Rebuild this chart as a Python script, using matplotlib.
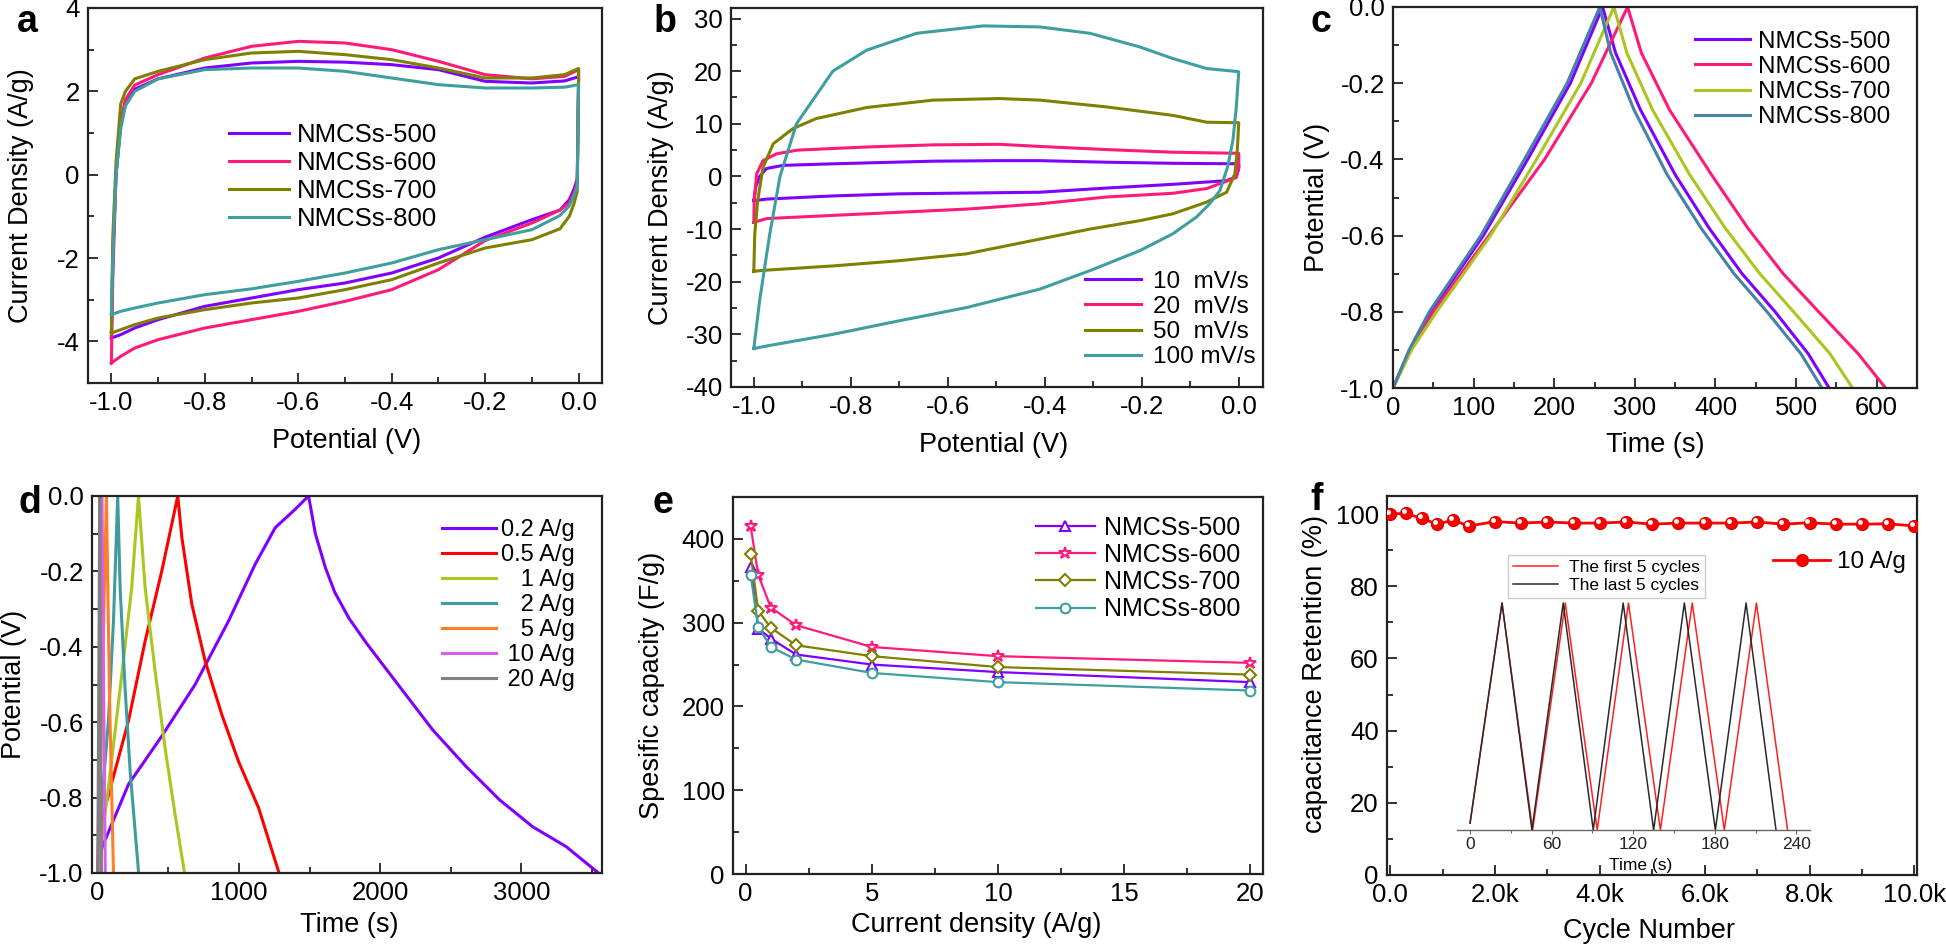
import matplotlib
matplotlib.use("Agg")
import matplotlib.pyplot as plt
from matplotlib.ticker import MultipleLocator, FormatStrFormatter, FuncFormatter
from matplotlib.transforms import offset_copy

plt.rcParams['font.family'] = ['Liberation Sans', 'DejaVu Sans']
plt.rcParams['axes.unicode_minus'] = False

PURPLE = '#7F00FF'
PINK = '#FF1A7A'
OLIVE = '#808000'
TEAL = '#3F9E9E'
YGREEN = '#ADC51F'
STEEL = '#4681A8'

# ---- panel a: CV of the four samples (forward sweep then reverse sweep)
va_up = [-1.0, -0.997, -0.99, -0.98, -0.97, -0.95, -0.9, -0.8, -0.7, -0.6, -0.5, -0.4, -0.3, -0.2, -0.1, -0.03, 0.0]
va_dn = [0.0, -0.003, -0.01, -0.02, -0.04, -0.1, -0.2, -0.3, -0.4, -0.5, -0.6, -0.7, -0.8, -0.9, -0.95, -0.98, -1.0]
a500_up = [-3.92, -2.0, 0.0, 1.2, 1.7, 2.05, 2.3, 2.56, 2.68, 2.72, 2.7, 2.64, 2.52, 2.24, 2.2, 2.25, 2.35]
a600_up = [-4.52, -2.5, 0.0, 1.3, 1.8, 2.15, 2.4, 2.8, 3.08, 3.2, 3.16, 3.0, 2.72, 2.4, 2.3, 2.36, 2.52]
a700_up = [-3.8, -1.5, 0.3, 1.7, 2.0, 2.3, 2.48, 2.76, 2.92, 2.96, 2.88, 2.76, 2.56, 2.32, 2.32, 2.4, 2.55]
a800_up = [-3.36, -2.0, 0.0, 1.1, 1.65, 2.0, 2.3, 2.52, 2.56, 2.56, 2.48, 2.32, 2.16, 2.08, 2.08, 2.1, 2.16]
a500_dn = [2.35, -0.1, -0.35, -0.6, -0.85, -1.08, -1.5, -2.0, -2.36, -2.6, -2.76, -2.96, -3.16, -3.48, -3.68, -3.84, -3.92]
a600_dn = [2.52, -0.2, -0.45, -0.68, -0.85, -1.16, -1.58, -2.28, -2.76, -3.04, -3.28, -3.48, -3.68, -3.96, -4.16, -4.36, -4.52]
a700_dn = [2.55, -0.4, -0.7, -1.0, -1.3, -1.56, -1.76, -2.12, -2.52, -2.76, -2.96, -3.08, -3.24, -3.44, -3.6, -3.72, -3.8]
a800_dn = [2.16, -0.3, -0.5, -0.75, -0.98, -1.32, -1.56, -1.8, -2.12, -2.36, -2.56, -2.74, -2.88, -3.08, -3.2, -3.28, -3.36]
samples = ['NMCSs-500', 'NMCSs-600', 'NMCSs-700', 'NMCSs-800']

# ---- panel b: CV of one sample at four scan rates
b10_v = [-1.0, -0.996, -0.988, -0.974, -0.94, -0.837, -0.63, -0.493, -0.41, -0.272, -0.136, 0.0, 0.0, -0.005, -0.025, -0.136, -0.272, -0.41, -0.699, -0.837, -0.973, -1.0]
b10_i = [-4.6, -2.0, 0.0, 1.5, 2.1, 2.4, 2.9, 3.0, 3.0, 2.7, 2.5, 2.4, 1.5, 0.0, -0.8, -1.5, -2.2, -3.0, -3.3, -3.7, -4.3, -4.6]
b20_v = [-1.0, -0.999, -0.994, -0.981, -0.953, -0.91, -0.767, -0.63, -0.493, -0.41, -0.272, -0.136, 0.0, 0.0, -0.005, -0.066, -0.136, -0.272, -0.41, -0.561, -0.699, -0.837, -0.973, -1.0]
b20_i = [-8.7, -4.6, 0.5, 3.0, 4.3, 5.0, 5.6, 6.0, 6.1, 5.7, 5.1, 4.6, 4.4, 1.8, -0.2, -2.3, -3.2, -3.9, -5.2, -6.2, -6.8, -7.4, -8.0, -8.7]
b50_v = [-1.0, -0.998, -0.992, -0.981, -0.96, -0.919, -0.871, -0.767, -0.63, -0.493, -0.41, -0.272, -0.136, -0.066, 0.0, -0.003, -0.008, -0.025, -0.067, -0.136, -0.204, -0.307, -0.41, -0.561, -0.699, -0.837, -0.973, -1.0]
b50_i = [-18.0, -10.9, -4.6, 1.7, 6.2, 9.1, 11.0, 13.1, 14.5, 14.8, 14.5, 13.2, 11.6, 10.3, 10.2, 5.0, 0.5, -3.0, -4.9, -7.1, -8.4, -10.0, -11.9, -14.7, -16.0, -17.0, -17.8, -18.0]
b100_v = [-1.0, -0.988, -0.967, -0.946, -0.912, -0.837, -0.767, -0.664, -0.527, -0.41, -0.307, -0.204, -0.136, -0.066, 0.0, -0.005, -0.012, -0.023, -0.039, -0.06, -0.087, -0.136, -0.204, -0.307, -0.41, -0.561, -0.699, -0.837, -0.973, -1.0]
b100_i = [-32.7, -23.6, -10.9, 0.0, 10.0, 20.0, 24.0, 27.2, 28.6, 28.4, 27.2, 24.6, 22.4, 20.5, 19.9, 13.2, 6.9, 1.8, -2.7, -5.2, -7.7, -10.9, -14.1, -17.9, -21.4, -24.9, -27.4, -30.0, -32.2, -32.7]
rates = ['10  mV/s', '20  mV/s', '50  mV/s', '100 mV/s']

# ---- panel c: GCD of the four samples
c_e = [-1.0, -0.9, -0.8, -0.6, -0.4, -0.2, 0.0, -0.12, -0.27, -0.44, -0.58, -0.70, -0.80, -0.91, -1.0]
c500_t = [0, 21, 47, 112, 167, 220, 260, 276, 307, 350, 392, 433, 474, 515, 541]
c600_t = [0, 22, 50, 119, 188, 246, 291, 308, 343, 395, 440, 484, 528, 577, 611]
c700_t = [0, 23, 54, 121, 178, 233, 274, 290, 322, 368, 412, 455, 497, 542, 570]
c800_t = [0, 20, 45, 109, 163, 216, 256.5, 270, 299, 340, 382, 423, 464, 506, 532]

# ---- panel d: GCD at different current densities
d02_t = [0, 29, 218, 454, 690, 926, 1115, 1257, 1399, 1493, 1541, 1612, 1678, 1780, 1902, 2138, 2373, 2609, 2845, 3078, 3316, 3545]
d02_e = [-1.0, -0.934, -0.765, -0.637, -0.5, -0.332, -0.181, -0.084, -0.035, 0.0, -0.10, -0.19, -0.255, -0.325, -0.39, -0.506, -0.621, -0.718, -0.806, -0.877, -0.93, -1.0]
d05_t = [0, 17, 52, 218, 336, 454, 567, 596, 667, 761, 879, 997, 1139, 1284]
d05_e = [-1.0, -0.916, -0.827, -0.597, -0.385, -0.199, 0.0, -0.11, -0.288, -0.438, -0.58, -0.704, -0.827, -1.0]
d1_t = [0, 15, 76, 171, 241, 289, 336, 407, 477, 548, 615]
d1_e = [-1.0, -0.95, -0.774, -0.473, -0.243, 0.0, -0.243, -0.465, -0.668, -0.845, -1.0]
d2_t = [0, 10, 76, 112, 142, 159, 194, 230, 290]
d2_e = [-1.0, -0.9, -0.597, -0.332, 0.0, -0.243, -0.509, -0.73, -1.0]
d5_t = [0, 8, 62, 85, 112]
d5_e = [-1.0, -0.92, 0.0, -0.55, -1.0]
d10_t = [0, 4, 31, 42, 54]
d10_e = [-1.0, -0.92, 0.0, -0.5, -1.0]
d20_t = [0, 2, 15, 20, 27]
d20_e = [-1.0, -0.92, 0.0, -0.5, -1.0]
currents = ['0.2 A/g', '0.5 A/g', '\u2007\u20081 A/g', '\u2007\u20082 A/g', '\u2007\u20085 A/g', '\u200810 A/g', '\u200820 A/g']

# ---- panel e: rate capability
e_cur = [0.2, 0.5, 1, 2, 5, 10, 20]
e500 = [367, 293, 281, 262, 250, 241, 229]
e600 = [415, 357, 318, 297, 271, 260, 252]
e700 = [382, 314, 294, 273, 260, 247, 238]
e800 = [357, 295, 271, 256, 240, 229, 219]

# ---- panel f: cycling stability and inset
cycles = [0, 300, 600, 900, 1200, 1500, 2000, 2500, 3000, 3500, 4000, 4500, 5000,
          5500, 6000, 6500, 7000, 7500, 8000, 8500, 9000, 9500, 10000]
retention = [100.0, 100.2, 98.8, 97.2, 98.3, 96.7, 97.9, 97.5, 97.8, 97.5, 97.5, 97.8,
             97.2, 97.5, 97.5, 97.5, 97.8, 97.2, 97.6, 97.2, 97.2, 97.3, 96.7]
first_t = [0, 23.5, 46, 70, 93.5, 116.5, 140, 163.4, 187, 210.6, 233.5]
first_e = [-0.97, 0.0, -1.0, 0.0, -1.0, 0.0, -1.0, 0.0, -1.0, 0.0, -1.0]
last_t = [0, 23.5, 45.5, 68.5, 90.6, 112.6, 135, 157.6, 180.4, 203, 225]
last_e = [-0.97, 0.0, -1.0, 0.0, -1.0, 0.0, -1.0, 0.0, -1.0, 0.0, -1.0]

W, H = 1946, 949
fig = plt.figure(figsize=(W / 100, H / 100), dpi=100)


def px_axes(l, t, r, b):
    return fig.add_axes([l / W, 1 - b / H, (r - l) / W, (b - t) / H])


def style(ax, tick_size=18.5):
    for s in ax.spines.values():
        s.set_linewidth(1.6)
        s.set_color('#222222')
    ax.tick_params(which='both', direction='in', top=False, right=False,
                   labelsize=tick_size, width=1.3, colors='#222222', labelcolor='black')
    ax.tick_params(which='major', length=7, pad=6)
    ax.tick_params(which='minor', length=4)


def legend(ax, x_px, y_px, size, hl, htp, ls, **kw):
    return ax.legend(loc='center left', bbox_to_anchor=(x_px / W, 1 - y_px / H),
                     bbox_transform=fig.transFigure, frameon=False, fontsize=size,
                     handlelength=hl, handletextpad=htp, labelspacing=ls,
                     borderpad=0, borderaxespad=0, **kw)


lw = 2.2

# a
ax = px_axes(88, 8, 602, 383)
colors4 = [PURPLE, PINK, OLIVE, TEAL]
for up, dn, c, lab in zip([a500_up, a600_up, a700_up, a800_up],
                          [a500_dn, a600_dn, a700_dn, a800_dn], colors4, samples):
    ax.plot(va_up + va_dn, up + dn, color=c, lw=lw, label=lab)
ax.set_xlim(-1.05, 0.05)
ax.set_ylim(-5, 4)
ax.xaxis.set_major_locator(MultipleLocator(0.2))
ax.xaxis.set_minor_locator(MultipleLocator(0.1))
ax.xaxis.set_major_formatter(FormatStrFormatter('%.1f'))
ax.yaxis.set_major_locator(MultipleLocator(2))
ax.yaxis.set_minor_locator(MultipleLocator(1))
style(ax)
ax.set_xlabel('Potential (V)', fontsize=19.5)
ax.set_ylabel('Current Density (A/g)', fontsize=19.5)
ax.xaxis.set_label_coords(0.504, -0.12)
ax.yaxis.set_label_coords(-0.105, 0.5)
legend(ax, 229, 177, 18.5, 2.35, 0.3, 0.15)

# b
ax = px_axes(731, 8, 1263, 387)
for v, i, c, lab in zip([b10_v, b20_v, b50_v, b100_v], [b10_i, b20_i, b50_i, b100_i], colors4, rates):
    ax.plot(v, i, color=c, lw=lw, label=lab)
ax.set_xlim(-1.047, 0.05)
ax.set_ylim(-40, 32)
ax.xaxis.set_major_locator(MultipleLocator(0.2))
ax.xaxis.set_minor_locator(MultipleLocator(0.1))
ax.xaxis.set_major_formatter(FormatStrFormatter('%.1f'))
ax.yaxis.set_major_locator(MultipleLocator(10))
ax.yaxis.set_minor_locator(MultipleLocator(5))
style(ax)
ax.set_xlabel('Potential (V)', fontsize=19.5)
ax.set_ylabel('Current Density (A/g)', fontsize=19.5)
ax.xaxis.set_label_coords(0.493, -0.12)
ax.yaxis.set_label_coords(-0.107, 0.5)
legend(ax, 1085, 319.5, 17.5, 2.3, 0.5, 0.13)

# c
ax = px_axes(1393, 7, 1917, 388)
for t, c, lab in zip([c500_t, c600_t, c700_t, c800_t], [PURPLE, PINK, YGREEN, STEEL], samples):
    ax.plot(t, c_e, color=c, lw=lw, label=lab)
ax.set_xlim(0, 650)
ax.set_ylim(-1.0, 0.0)
ax.xaxis.set_major_locator(MultipleLocator(100))
ax.xaxis.set_minor_locator(MultipleLocator(50))
ax.yaxis.set_major_locator(MultipleLocator(0.2))
ax.yaxis.set_minor_locator(MultipleLocator(0.1))
ax.yaxis.set_major_formatter(FormatStrFormatter('%.1f'))
style(ax)
ax.set_xlabel('Time (s)', fontsize=19.5)
ax.set_ylabel('Potential (V)', fontsize=19.5)
ax.xaxis.set_label_coords(0.501, -0.115)
ax.yaxis.set_label_coords(-0.12, 0.5)
legend(ax, 1695, 79.5, 17.5, 2.25, 0.35, 0.13)

# d
ax = px_axes(92, 496, 602, 873)
d_sets = [(d02_t, d02_e, PURPLE), (d05_t, d05_e, '#FF0000'), (d1_t, d1_e, YGREEN),
          (d2_t, d2_e, '#3E9C9E'), (d5_t, d5_e, '#FF7F27'), (d10_t, d10_e, '#D860E8'),
          (d20_t, d20_e, '#808080')]
for (t, e, c), lab in zip(d_sets, currents):
    ax.plot(t, e, color=c, lw=lw, label=lab)
ax.set_xlim(-40, 3570)
ax.set_ylim(-1.0, 0.0)
ax.xaxis.set_major_locator(MultipleLocator(1000))
ax.xaxis.set_minor_locator(MultipleLocator(500))
ax.yaxis.set_major_locator(MultipleLocator(0.2))
ax.yaxis.set_minor_locator(MultipleLocator(0.1))
ax.yaxis.set_major_formatter(FormatStrFormatter('%.1f'))
style(ax)
ax.set_xlabel('Time (s)', fontsize=19.5)
ax.set_ylabel('Potential (V)', fontsize=19.5)
ax.xaxis.set_label_coords(0.504, -0.103)
ax.yaxis.set_label_coords(-0.127, 0.5)
legend(ax, 442, 605, 17, 2.3, 0.2, 0.13)

# e
ax = px_axes(733, 497, 1263, 874)
markers = ['^', '*', 'D', 'o']
msizes = [7, 9, 6, 7]
for y, c, m, ms, lab in zip([e500, e600, e700, e800], colors4, markers, msizes, samples):
    ax.plot(e_cur, y, color=c, lw=1.6, marker=m, ms=ms, mfc='white', mec=c, mew=1.5, label=lab)
ax.set_xlim(-0.5, 20.5)
ax.set_ylim(0, 450)
ax.xaxis.set_major_locator(MultipleLocator(5))
ax.xaxis.set_minor_locator(MultipleLocator(2.5))
ax.yaxis.set_major_locator(MultipleLocator(100))
ax.yaxis.set_minor_locator(MultipleLocator(50))
style(ax)
ax.set_xlabel('Current density (A/g)', fontsize=19.5)
ax.set_ylabel('Spesific capacity (F/g)', fontsize=19.5)
ax.xaxis.set_label_coords(0.458, -0.10)
ax.yaxis.set_label_coords(-0.128, 0.5)
legend(ax, 1036, 568.5, 18, 2.35, 0.35, 0.13)

# f
ax = px_axes(1387, 496, 1917, 875)
ax.plot(cycles, retention, color='#FF0000', lw=2, marker='o', ms=8.5, mfc='#FF0000',
        mec='#E00000', label='10 A/g', zorder=3)
ax.plot(cycles, retention, linestyle='none', marker='o', ms=2.5, color='white', zorder=4,
        transform=offset_copy(ax.transData, fig=fig, x=-1.5, y=1.5, units='points'))
ax.set_xlim(-60, 10050)
ax.set_ylim(0, 105)
ax.xaxis.set_major_locator(MultipleLocator(2000))
ax.xaxis.set_minor_locator(MultipleLocator(1000))
ax.xaxis.set_major_formatter(FuncFormatter(lambda v, p: '0.0' if v == 0 else f'{v / 1000:.1f}k'))
ax.yaxis.set_major_locator(MultipleLocator(20))
ax.yaxis.set_minor_locator(MultipleLocator(10))
style(ax)
ax.set_xlabel('Cycle Number', fontsize=19.5)
ax.set_ylabel('capacitance Retention (%)', fontsize=19.5)
ax.xaxis.set_label_coords(0.494, -0.113)
ax.yaxis.set_label_coords(-0.111, 0.53)
legend(ax, 1773, 562, 17.5, 2.35, 0.3, 0.1)

# f inset
axi = px_axes(1457, 603, 1810, 830)
axi.patch.set_alpha(0)
axi.plot(first_t, first_e, color='#FF2020', lw=1.1, label='The first 5 cycles', clip_on=False)
axi.plot(last_t, last_e, color='#2A2A2A', lw=1.1, label='The last 5 cycles', clip_on=False)
axi.set_xlim(-9.6, 250)
axi.set_ylim(-1.0, 0.0)
for side in ['left', 'top', 'right']:
    axi.spines[side].set_visible(False)
axi.spines['bottom'].set_color('#666666')
axi.spines['bottom'].set_linewidth(1.0)
axi.set_yticks([])
axi.xaxis.set_major_locator(MultipleLocator(60))
axi.xaxis.set_minor_locator(MultipleLocator(30))
axi.tick_params(which='both', direction='out', labelsize=12.5, width=0.8, colors='#666666',
                labelcolor='#222222', pad=2)
axi.tick_params(which='major', length=3)
axi.tick_params(which='minor', length=2)
axi.set_xlabel('Time (s)', fontsize=12.5)
axi.xaxis.set_label_coords(0.52, -0.125)
axi.legend(loc='upper left', bbox_to_anchor=(1508 / W, 1 - 555 / H), bbox_transform=fig.transFigure,
           fontsize=12.5, frameon=True, fancybox=False, edgecolor='#CCCCCC', framealpha=1,
           handlelength=2.6, handletextpad=0.6, labelspacing=0.15, borderpad=0.3, borderaxespad=0)

# panel letters
for letter, x, y in [('a', 27, 22), ('b', 665, 22), ('c', 1321, 22),
                     ('d', 30, 503), ('e', 663, 503), ('f', 1317, 500)]:
    fig.text(x / W, 1 - y / H, letter, fontsize=27, fontweight='bold', ha='center', va='center')

fig.savefig('out.png', dpi=100)
